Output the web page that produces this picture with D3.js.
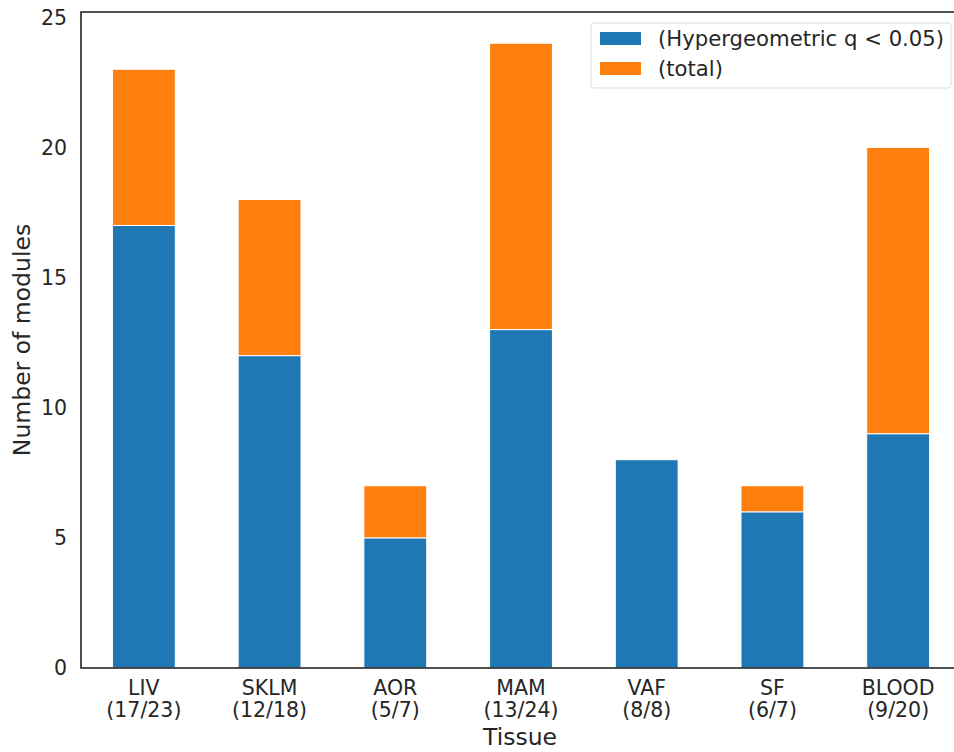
<!DOCTYPE html>
<html>
<head>
<meta charset="utf-8">
<script src="https://cdn.jsdelivr.net/npm/d3@7"></script>
<style>
  body { margin: 0; background: #fff; }
  text { font-family: "DejaVu Sans", sans-serif; fill: #262626; }
</style>
</head>
<body>
<div id="chart"></div>
<script>
// data
var tissues = ["LIV", "SKLM", "AOR", "MAM", "VAF", "SF", "BLOOD"];
var significant = [17, 12, 5, 13, 8, 6, 9];
var total = [23, 18, 7, 24, 8, 7, 20];
var yTicks = [0, 5, 10, 15, 20, 25];
var seriesNames = ["(Hypergeometric q < 0.05)", "(total)"];
var colors = ["#1f77b4", "#ff7f0e"];

var W = 954, H = 752;
var margin = {top: 12, left: 81, bottom: 84};
var plotH = H - margin.top - margin.bottom;

var svg = d3.select("#chart")
    .append("svg")
    .attr("width", W)
    .attr("height", H);

var x = d3.scaleBand()
    .domain(tissues)
    .range([margin.left, margin.left + 880])
    .paddingInner(0.5)
    .paddingOuter(0.25);

// matplotlib-style 5% headroom over the tallest bar
var y = d3.scaleLinear()
    .domain([0, d3.max(total) * 1.05])
    .range([margin.top + plotH, margin.top]);

// stacked: blue = significant, orange = rest up to total
var rows = tissues.map(function(t, i) {
    return {tissue: t, sig: significant[i], rest: total[i] - significant[i]};
});
var stack = d3.stack().keys(["sig", "rest"])(rows);

svg.append("g")
  .selectAll("g")
  .data(stack)
  .enter()
  .append("g")
  .attr("fill", function(d, i) { return colors[i]; })
  .selectAll("rect")
  .data(function(d) { return d; })
  .enter()
  .append("rect")
  .attr("x", function(d) { return x(d.data.tissue); })
  .attr("width", x.bandwidth())
  .attr("y", function(d) { return y(d[1]); })
  .attr("height", function(d) { return y(d[0]) - y(d[1]); })
  .attr("stroke", "#fff")
  .attr("stroke-width", 1);

// frame (right side runs off the picture)
svg.append("rect")
  .attr("x", margin.left)
  .attr("y", margin.top)
  .attr("width", 900)
  .attr("height", plotH)
  .attr("fill", "none")
  .attr("stroke", "#262626")
  .attr("stroke-width", 1.6);

// y axis labels
svg.append("g")
  .selectAll("text")
  .data(yTicks)
  .enter()
  .append("text")
  .attr("x", margin.left - 14)
  .attr("y", function(d) { return y(d); })
  .attr("dy", "0.36em")
  .attr("text-anchor", "end")
  .style("font-size", "20.5px")
  .text(function(d) { return d; });

// x axis labels, two lines
var xl = svg.append("g")
  .selectAll("text")
  .data(tissues)
  .enter()
  .append("text")
  .attr("text-anchor", "middle")
  .style("font-size", "20.5px");
xl.append("tspan")
  .attr("x", function(d) { return x(d) + x.bandwidth() / 2; })
  .attr("y", 695)
  .text(function(d) { return d; });
xl.append("tspan")
  .attr("x", function(d) { return x(d) + x.bandwidth() / 2; })
  .attr("y", 717)
  .text(function(d, i) { return "(" + significant[i] + "/" + total[i] + ")"; });

svg.append("text")
  .attr("x", 520)
  .attr("y", 745)
  .attr("text-anchor", "middle")
  .style("font-size", "23.5px")
  .text("Tissue");

svg.append("text")
  .attr("transform", "translate(30," + (margin.top + plotH / 2) + ") rotate(-90)")
  .attr("text-anchor", "middle")
  .style("font-size", "23.5px")
  .text("Number of modules");

// legend
var lg = svg.append("g").attr("transform", "translate(591,23)");
lg.append("rect")
  .attr("width", 360)
  .attr("height", 65)
  .attr("rx", 3)
  .attr("fill", "#fff")
  .attr("fill-opacity", 0.8)
  .attr("stroke", "#ddd");
seriesNames.forEach(function(s, i) {
    lg.append("rect")
      .attr("x", 9)
      .attr("y", 9 + i * 30)
      .attr("width", 41)
      .attr("height", 13)
      .attr("fill", colors[i]);
    lg.append("text")
      .attr("x", 67)
      .attr("y", 23 + i * 30)
      .style("font-size", "21.2px")
      .text(s);
});
</script>
</body>
</html>
